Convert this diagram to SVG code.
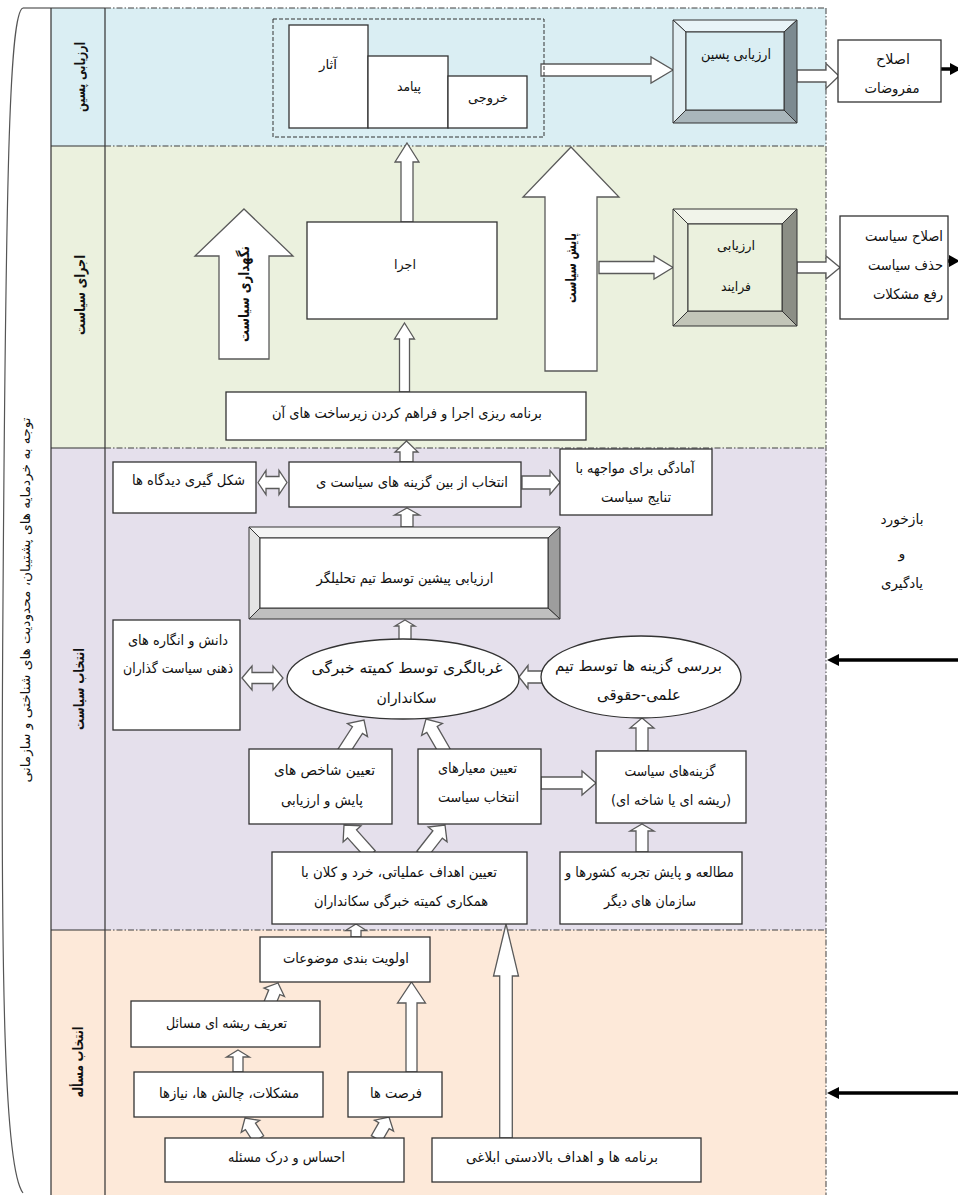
<svg xmlns="http://www.w3.org/2000/svg" width="958" height="1195" viewBox="0 0 958 1195">
<style>
.dd{stroke:#404040;stroke-width:1;stroke-dasharray:6 2 1.5 2;fill:none}
.sl{stroke:#333;stroke-width:1.2;fill:none}
.box{fill:#fff;stroke:#333;stroke-width:1.3}
.arr{fill:#fff;stroke:#5a5a5a;stroke-width:1.3;stroke-linejoin:miter}
.bev{stroke:#333;stroke-width:1}
.fb{stroke:#000;stroke-width:3.5;fill:none}
text{font-family:'DejaVu Sans',sans-serif;font-size:14px;fill:#111;text-anchor:middle;dominant-baseline:central;direction:rtl}
.b{font-weight:bold}
.s12{font-size:13px}
.s14{font-size:15px}
</style>

<g id="lanes">
  <rect x="51" y="8" width="775" height="138" fill="#daeef3"/>
  <rect x="51" y="146" width="775" height="302" fill="#ebf1de"/>
  <rect x="51" y="448" width="775" height="482" fill="#e5e0ec"/>
  <rect x="51" y="930" width="775" height="265" fill="#fde9d9"/>
  <path class="sl" d="M23 8H105M51 8V1195M105 8V1195M51 146H105M51 448H105M51 930H105"/>
  <path class="dd" d="M105 8H826M105 146H826M105 448H826M105 930H826M826 8V1195"/>
  <path d="M23 8C10 12 6 150 3 600C0 1000 5 1170 23 1193" fill="none" stroke="#555" stroke-width="1.2"/>
  <text class="s12" transform="translate(25,600) rotate(-90)" textLength="365" lengthAdjust="spacingAndGlyphs">توجه به خردمایه های پشتیبان، محدودیت های شناختی و سازمانی</text>
  <text class="b" transform="translate(80,77) rotate(-90)" textLength="70" lengthAdjust="spacingAndGlyphs">ارزیابی پسین</text>
  <text class="b" transform="translate(80,295) rotate(-90)" textLength="80" lengthAdjust="spacingAndGlyphs">اجرای سیاست</text>
  <text class="b" transform="translate(79,689) rotate(-90)" textLength="82" lengthAdjust="spacingAndGlyphs">انتخاب سیاست</text>
  <text class="b" transform="translate(78,1062) rotate(-90)" textLength="71" lengthAdjust="spacingAndGlyphs">انتخاب مسأله</text>
</g>

<g id="connectors">
  <polygon class="arr" points="407,143 419,162 413,162 413,222 401,222 401,162 395,162"/>
  <polygon class="arr" points="404.5,323 414.5,339 409.5,339 409.5,392 399.5,392 399.5,339 394.5,339"/>
  <polygon class="arr" points="406.5,441 418,452 413,452 413,462 400,462 400,452 395,452"/>
  <polygon class="arr" points="244,209 293,256 269,256 269,359 219,359 219,256 195,256"/>
  <polygon class="arr" points="571,147 619,197 597,197 597,371 545,371 545,197 523,197"/>
  <polygon class="arr" points="407,508 419.5,515 413,515 413,527 401,527 401,515 394.5,515"/>
  <polygon class="arr" points="405,620 415,626 411,626 411,642 399,642 399,626 395,626"/>
  <polygon class="arr" points="642,718 654,728 648,728 648,751 636,751 636,728 630,728"/>
  <polygon class="arr" points="642,824 654,831 648,831 648,852 636,852 636,831 630,831"/>
  <polygon class="arr" points="356,924 366.5,930.5 361,930.5 361,937 351,937 351,930.5 345.5,930.5"/>
  <polygon class="arr" points="238,1050 249.5,1057 243,1057 243,1072 233,1072 233,1057 226.5,1057"/>
  <polygon class="arr" points="411.5,982 425.5,1003 417,1003 417,1072 406,1072 406,1003 397.5,1003"/>
  <polygon class="arr" points="506,924 518.5,976 512.3,976 512.3,1138 499.7,1138 499.7,976 493.5,976"/>
  <polygon class="arr" points="673,70 651,83 651,76 541,76 541,64 651,64 651,57"/>
  <polygon class="arr" points="839,76 826,88.5 826,82 797,82 797,70 826,70 826,63.5"/>
  <polygon class="arr" points="673,267.5 654,279 654,273.5 599,273.5 599,261.5 654,261.5 654,256"/>
  <polygon class="arr" points="840,267.5 826,279 826,273 797,273 797,262 826,262 826,256"/>
  <polygon class="arr" points="560,482.5 550,494.5 550,489 522,489 522,476 550,476 550,470.5"/>
  <polygon class="arr" points="596,783 582,795 582,789 541,789 541,777 582,777 582,771"/>
  <polygon class="arr" points="519,677 528,665.5 528,671 543,671 543,683 528,683 528,688.5"/>
  <polygon class="arr" points="258,482.5 266,470.5 266,476.5 279,476.5 279,470.5 287,482.5 279,494.5 279,488.5 266,488.5 266,494.5"/>
  <polygon class="arr" points="242,678 252,666 252,672.5 273,672.5 273,666 283,678 273,690 273,683.5 252,683.5 252,690"/>
  <path class="arr" transform="translate(344,825) rotate(-42)" d="M0 0L12 12L6 12L6 40L-6 40L-6 12L-12 12Z"/>
  <path class="arr" transform="translate(445,825) rotate(38)" d="M0 0L12 12L6 12L6 38L-6 38L-6 12L-12 12Z"/>
  <path class="arr" transform="translate(364,720) rotate(33)" d="M0 0L12 12L6 12L6 40L-6 40L-6 12L-12 12Z"/>
  <path class="arr" transform="translate(426,719) rotate(-30)" d="M0 0L12 12L6 12L6 38L-6 38L-6 12L-12 12Z"/>
  <path class="arr" transform="translate(278,983) rotate(22)" d="M0 0L11 10L6 10L6 22L-6 22L-6 10L-11 10Z"/>
  <path class="arr" transform="translate(245,1118) rotate(-33)" d="M0 0L11 10L6 10L6 25L-6 25L-6 10L-11 10Z"/>
  <path class="arr" transform="translate(389,1117) rotate(30)" d="M0 0L11 10L6 10L6 25L-6 25L-6 10L-11 10Z"/>
  <line class="fb" x1="941" y1="69" x2="951" y2="69"/>
  <polygon points="950,63 961,69 950,75" fill="#000"/>
  <line class="fb" x1="940" y1="261" x2="950" y2="261"/>
  <polygon points="949,255 960,261 949,267" fill="#000"/>
  <line class="fb" x1="958" y1="660" x2="836" y2="660"/>
  <polygon points="827,660 839,654 839,666" fill="#000"/>
  <line class="fb" x1="958" y1="1093" x2="836" y2="1093"/>
  <polygon points="827,1093 839,1087 839,1099" fill="#000"/>
</g>

<g id="outputs-group">
  <rect x="273" y="19" width="271" height="118" fill="none" stroke="#333" stroke-width="1" stroke-dasharray="4 2"/>
</g>
<g id="athar">
  <rect class="box" x="289" y="25" width="79" height="103"/>
  <text class="s12" x="328" y="64" textLength="18" lengthAdjust="spacingAndGlyphs">آثار</text>
</g>
<g id="payamad">
  <rect class="box" x="368" y="56" width="80" height="72"/>
  <text class="s12" x="409" y="86" textLength="24" lengthAdjust="spacingAndGlyphs">پیامد</text>
</g>
<g id="khoruji">
  <rect class="box" x="448" y="76" width="79" height="52"/>
  <text class="s12" x="488" y="97" textLength="40" lengthAdjust="spacingAndGlyphs">خروجی</text>
</g>

<g id="post-eval">
  <polygon class="bev" fill="#e9f4f8" points="673,20 797,20 784,32 686,32"/>
  <polygon class="bev" fill="#e2eff3" points="673,20 686,32 686,110 673,123"/>
  <polygon class="bev" fill="#7c8a90" points="797,20 797,123 784,110 784,32"/>
  <polygon class="bev" fill="#a9b6bb" points="673,123 686,110 784,110 797,123"/>
  <rect class="bev" x="686" y="32" width="98" height="78" fill="#daeef3"/>
  <text x="736" y="54" textLength="70" lengthAdjust="spacingAndGlyphs">ارزیابی پسین</text>
</g>
<g id="eslah-mafruzat">
  <rect class="box" x="838" y="40" width="103" height="62"/>
  <text x="893" y="59" textLength="34" lengthAdjust="spacingAndGlyphs">اصلاح</text>
  <text x="892" y="88" textLength="55" lengthAdjust="spacingAndGlyphs">مفروضات</text>
</g>

<g id="ejra">
  <rect class="box" x="307" y="222" width="190" height="97"/>
  <text class="s12" x="405" y="264" textLength="22" lengthAdjust="spacingAndGlyphs">اجرا</text>
</g>
<g id="negahdari">
  <text class="b s14" transform="translate(244,294) rotate(-90)" textLength="96" lengthAdjust="spacingAndGlyphs">نگهداری سیاست</text>
</g>
<g id="payesh">
  <text class="b s14" transform="translate(571,268) rotate(-90)" textLength="70" lengthAdjust="spacingAndGlyphs">پایش سیاست</text>
</g>
<g id="process-eval">
  <polygon class="bev" fill="#f1f4ea" points="673,209 797,209 782,224 688,224"/>
  <polygon class="bev" fill="#e7ecdb" points="673,209 688,224 688,311 673,326"/>
  <polygon class="bev" fill="#8b8e85" points="797,209 797,326 782,311 782,224"/>
  <polygon class="bev" fill="#c2c5b8" points="673,326 688,311 782,311 797,326"/>
  <rect class="bev" x="688" y="224" width="94" height="87" fill="#ebf1de"/>
  <text class="s12" x="736" y="245" textLength="38" lengthAdjust="spacingAndGlyphs">ارزیابی</text>
  <text class="s12" x="736" y="286" textLength="30" lengthAdjust="spacingAndGlyphs">فرایند</text>
</g>
<g id="eslah-siasat">
  <rect class="box" x="840" y="216" width="108" height="103"/>
  <text x="904" y="236" textLength="78" lengthAdjust="spacingAndGlyphs">اصلاح سیاست</text>
  <text x="905.5" y="265" textLength="75" lengthAdjust="spacingAndGlyphs">حذف سیاست</text>
  <text x="908" y="294" textLength="70" lengthAdjust="spacingAndGlyphs">رفع مشکلات</text>
</g>
<g id="barnameh-ejra">
  <rect class="box" x="226" y="392" width="360" height="48"/>
  <text x="407" y="413" textLength="270" lengthAdjust="spacingAndGlyphs">برنامه ریزی اجرا و فراهم کردن زیرساخت های آن</text>
</g>

<g id="didgah">
  <rect class="box" x="113" y="462" width="143" height="51"/>
  <text x="188.5" y="480" textLength="113" lengthAdjust="spacingAndGlyphs">شکل گیری دیدگاه ها</text>
</g>
<g id="entekhab">
  <rect class="box" x="289" y="462" width="232" height="45"/>
  <text x="412" y="482" textLength="192" lengthAdjust="spacingAndGlyphs">انتخاب از بین گزینه های سیاست ی</text>
</g>
<g id="amadegi">
  <rect class="box" x="560" y="449" width="152" height="66"/>
  <text x="635" y="468" textLength="119" lengthAdjust="spacingAndGlyphs">آمادگی برای مواجهه با</text>
  <text x="636" y="497" textLength="70" lengthAdjust="spacingAndGlyphs">تنایج سیاست</text>
</g>
<g id="pre-eval">
  <polygon class="bev" fill="#f4f4f4" points="249,527 560,527 548,538 260,538"/>
  <polygon class="bev" fill="#e4e4e4" points="249,527 260,538 260,608 249,619"/>
  <polygon class="bev" fill="#9d9d9d" points="560,527 560,619 548,608 548,538"/>
  <polygon class="bev" fill="#bfbfbf" points="249,619 260,608 548,608 560,619"/>
  <rect class="bev" x="260" y="538" width="288" height="70" fill="#fff"/>
  <text x="405" y="578" textLength="177" lengthAdjust="spacingAndGlyphs">ارزیابی پیشین توسط تیم تحلیلگر</text>
</g>
<g id="ghorbalgari">
  <ellipse class="box" cx="403" cy="679" rx="116" ry="40"/>
  <text class="s14" x="407" y="668" textLength="191" lengthAdjust="spacingAndGlyphs">غربالگری توسط کمیته خبرگی</text>
  <text class="s14" x="406.5" y="698" textLength="60" lengthAdjust="spacingAndGlyphs">سکانداران</text>
</g>
<g id="danesh">
  <rect class="box" x="113" y="620" width="127" height="110"/>
  <text x="178" y="640" textLength="100" lengthAdjust="spacingAndGlyphs">دانش و انگاره های</text>
  <text x="178" y="668" textLength="110" lengthAdjust="spacingAndGlyphs">ذهنی سیاست گذاران</text>
</g>
<g id="barresi">
  <ellipse class="box" cx="641" cy="677" rx="100" ry="41"/>
  <text class="s14" x="638.5" y="666" textLength="167" lengthAdjust="spacingAndGlyphs">بررسی گزینه ها توسط تیم</text>
  <text class="s14" x="639" y="695" textLength="84" lengthAdjust="spacingAndGlyphs">علمی-حقوقی</text>
</g>
<g id="shakhes">
  <rect class="box" x="249" y="749" width="143" height="75"/>
  <text x="324.5" y="770" textLength="101" lengthAdjust="spacingAndGlyphs">تعیین شاخص های</text>
  <text x="322" y="800" textLength="82" lengthAdjust="spacingAndGlyphs">پایش و ارزیابی</text>
</g>
<g id="meyar">
  <rect class="box" x="418" y="749" width="123" height="75"/>
  <text x="477.5" y="768" textLength="79" lengthAdjust="spacingAndGlyphs">تعیین معیارهای</text>
  <text x="478.5" y="797" textLength="81" lengthAdjust="spacingAndGlyphs">انتخاب سیاست</text>
</g>
<g id="gozineha">
  <rect class="box" x="596" y="751" width="150" height="72"/>
  <text x="670" y="771" textLength="91" lengthAdjust="spacingAndGlyphs">گزینه‌های سیاست</text>
  <text x="671" y="800" textLength="120" lengthAdjust="spacingAndGlyphs">(ریشه ای یا شاخه ای)</text>
</g>
<g id="motaleeh">
  <rect class="box" x="560" y="852" width="182" height="72"/>
  <text x="649.5" y="872" textLength="169" lengthAdjust="spacingAndGlyphs">مطالعه و پایش تجربه کشورها و</text>
  <text x="650" y="901" textLength="92" lengthAdjust="spacingAndGlyphs">سازمان های دیگر</text>
</g>
<g id="ahdaf">
  <rect class="box" x="272" y="852" width="255" height="72"/>
  <text x="399" y="872" textLength="196" lengthAdjust="spacingAndGlyphs">تعیین اهداف عملیاتی، خرد و کلان با</text>
  <text x="401" y="901" textLength="174" lengthAdjust="spacingAndGlyphs">همکاری کمیته خبرگی سکانداران</text>
</g>

<g id="olaviat">
  <rect class="box" x="260" y="937" width="170" height="45"/>
  <text x="346" y="958" textLength="126" lengthAdjust="spacingAndGlyphs">اولویت بندی موضوعات</text>
</g>
<g id="tarif">
  <rect class="box" x="131" y="1001" width="189" height="46"/>
  <text x="226.5" y="1023" textLength="121" lengthAdjust="spacingAndGlyphs">تعریف ریشه ای مسائل</text>
</g>
<g id="moshkelat">
  <rect class="box" x="134" y="1072" width="189" height="45"/>
  <text x="229" y="1093" textLength="140" lengthAdjust="spacingAndGlyphs">مشکلات، چالش ها، نیازها</text>
</g>
<g id="forsat">
  <rect class="box" x="348" y="1072" width="94" height="45"/>
  <text x="396" y="1093" textLength="52" lengthAdjust="spacingAndGlyphs">فرصت ها</text>
</g>
<g id="ehsas">
  <rect class="box" x="165" y="1138" width="239" height="44"/>
  <text x="286.5" y="1157" textLength="117" lengthAdjust="spacingAndGlyphs">احساس و درک مسئله</text>
</g>
<g id="barnameh-ahdaf">
  <rect class="box" x="432" y="1138" width="269" height="44"/>
  <text x="562" y="1157" textLength="192" lengthAdjust="spacingAndGlyphs">برنامه ها و اهداف بالادستی ابلاغی</text>
</g>

<g id="feedback-label">
  <text x="902" y="519" textLength="43" lengthAdjust="spacingAndGlyphs">بازخورد</text>
  <text x="902" y="553">و</text>
  <text x="902" y="583" textLength="42" lengthAdjust="spacingAndGlyphs">یادگیری</text>
</g>
</svg>
